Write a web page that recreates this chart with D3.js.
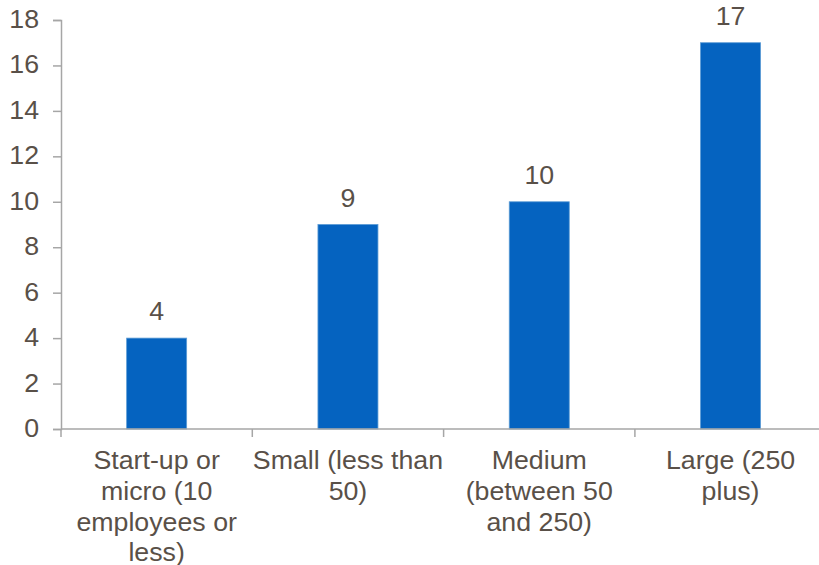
<!DOCTYPE html>
<html>
<head>
<meta charset="utf-8">
<script src="https://cdn.jsdelivr.net/npm/d3@7/dist/d3.min.js"></script>
<style>
  html, body { margin: 0; padding: 0; background: #ffffff; }
  svg { display: block; font-family: "Liberation Sans", Arial, sans-serif; }
</style>
</head>
<body>
<svg id="chart" width="819" height="565"></svg>
<script>
// Business size categories and their values
const categories = [
  "Start-up or micro (10 employees or less)",
  "Small (less than 50)",
  "Medium (between 50 and 250)",
  "Large (250 plus)"
];
const categoryLines = [
  ["Start-up or", "micro (10", "employees or", "less)"],
  ["Small (less than", "50)"],
  ["Medium", "(between 50", "and 250)"],
  ["Large (250", "plus)"]
];
const values = [4, 9, 10, 17];
const yTicks = [0, 2, 4, 6, 8, 10, 12, 14, 16, 18];

const textColor = "#595048";
const axisColor = "#a6a6a6";
const barColor = "#0563c0";
const fontSize = 25;
const stretch = 1.07;   // slightly wide lettering

const svg = d3.select("#chart");
const plotLeft = 61, plotTop = 20, plotBottom = 429;
const catWidth = 191.3;

const x = d3.scaleBand()
  .domain(categories)
  .range([plotLeft, plotLeft + catWidth * categories.length])
  .paddingInner(0)
  .paddingOuter(0);

const y = d3.scaleLinear().domain([0, 18]).range([plotBottom, plotTop]);

// Bars
const barW = 60;
svg.append("g").selectAll("rect")
  .data(values)
  .join("rect")
  .attr("x", (d, i) => x(categories[i]) + x.bandwidth() / 2 - barW / 2)
  .attr("y", d => y(d))
  .attr("width", barW)
  .attr("height", d => y(0) - y(d))
  .attr("fill", barColor)
  .attr("stroke", "#5b9bd5")
  .attr("stroke-width", 0.8);

// Value labels
svg.append("g").selectAll("text")
  .data(values)
  .join("text")
  .attr("transform", (d, i) =>
    `translate(${x(categories[i]) + x.bandwidth() / 2},${y(d) - 18}) scale(${stretch},1)`)
  .attr("text-anchor", "middle")
  .attr("fill", textColor)
  .attr("font-size", fontSize)
  .text(d => d);

// Y axis
const yAxis = d3.axisLeft(y).tickValues(yTicks).tickSize(8).tickPadding(14);
const gy = svg.append("g").attr("transform", `translate(${plotLeft},0)`).call(yAxis);
gy.select(".domain").attr("stroke", axisColor).attr("stroke-width", 1.5);
gy.selectAll(".tick line").attr("stroke", axisColor).attr("stroke-width", 1.5);
gy.selectAll(".tick text")
  .attr("fill", textColor)
  .attr("font-size", fontSize)
  .attr("font-family", "Liberation Sans, Arial, sans-serif")
  .attr("x", 0)
  .attr("dy", "0.3em")
  .attr("transform", `translate(-22,0) scale(${stretch},1)`);

// X axis with ticks on category boundaries
const boundaries = d3.range(categories.length + 1).map(i => plotLeft + i * catWidth);
svg.append("line")
  .attr("x1", plotLeft).attr("x2", plotLeft + catWidth * categories.length)
  .attr("y1", plotBottom).attr("y2", plotBottom)
  .attr("stroke", axisColor).attr("stroke-width", 1.5);
svg.append("g").selectAll("line")
  .data(boundaries)
  .join("line")
  .attr("x1", d => d).attr("x2", d => d)
  .attr("y1", plotBottom).attr("y2", plotBottom + 8)
  .attr("stroke", axisColor).attr("stroke-width", 1.5);

// Category labels
const lbl = svg.append("g").selectAll("text")
  .data(categories)
  .join("text")
  .attr("transform", d => `translate(${x(d) + x.bandwidth() / 2},469) scale(${stretch},1)`)
  .attr("text-anchor", "middle")
  .attr("fill", textColor)
  .attr("font-size", fontSize);
lbl.each(function(d, i) {
  const t = d3.select(this);
  categoryLines[i].forEach((line, j) => {
    t.append("tspan")
      .attr("x", 0)
      .attr("dy", j === 0 ? 0 : 30.8)
      .text(line);
  });
});
</script>
</body>
</html>
